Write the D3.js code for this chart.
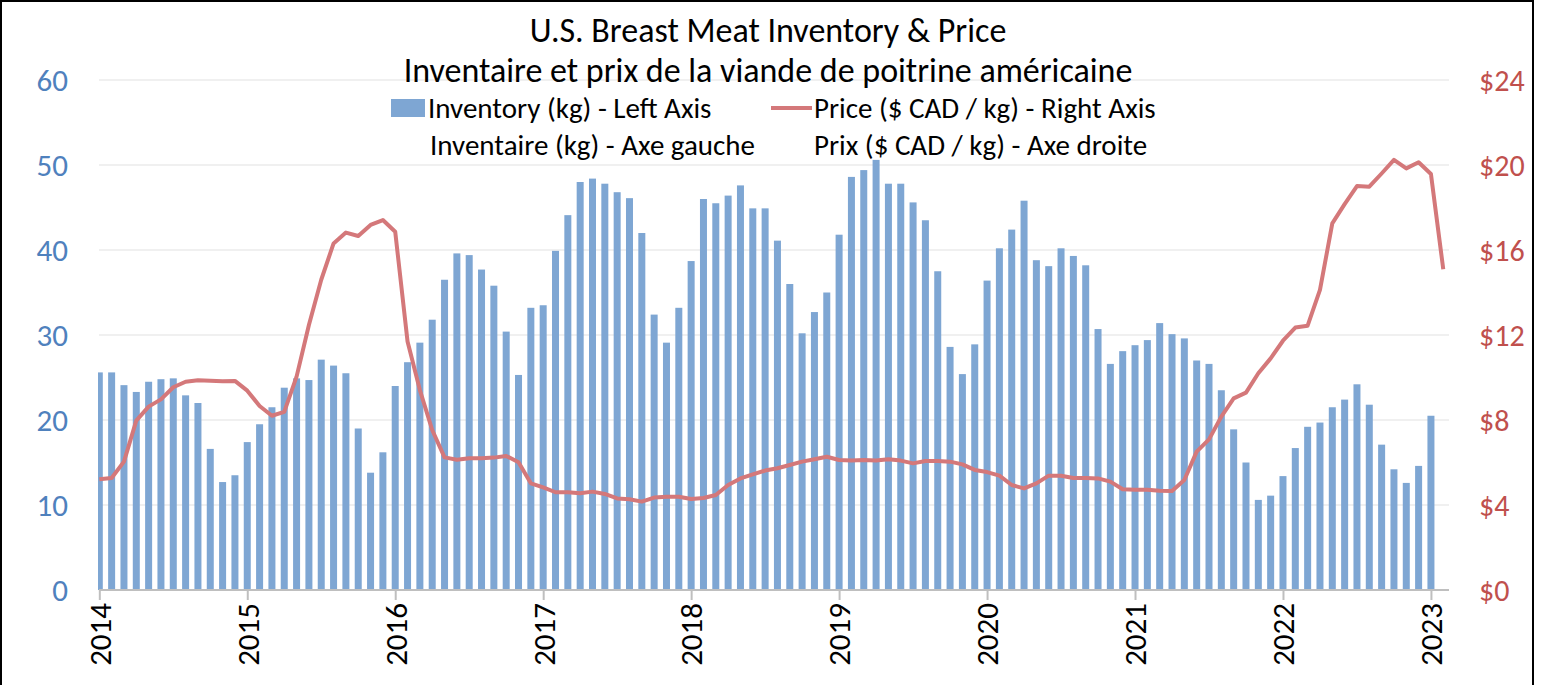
<!DOCTYPE html>
<html>
<head>
<meta charset="utf-8">
<script src="https://cdn.jsdelivr.net/npm/d3@7"></script>
<style>
  body { margin: 0; background: #fff; }
  svg { display: block; font-family: Carlito, Lato, sans-serif; }
</style>
</head>
<body>
<div id="chart-holder"></div>
<script>
// Monthly breast meat inventory (left axis) and price (right axis)

const yearLabels = ['2014','2015','2016','2017','2018','2019','2020','2021','2022','2023'];

// Jan 2014 .. Jan 2023
const inventory = [
    25.6, 25.6, 24.1, 23.3, 24.5, 24.8, 24.9, 22.9, 22.0, 16.6, 12.7, 13.5,
    17.4, 19.5, 21.5, 23.8, 24.9, 24.7, 27.1, 26.4, 25.5, 19.0, 13.8, 16.2,
    24.0, 26.8, 29.1, 31.8, 36.5, 39.6, 39.4, 37.7, 35.8, 30.4, 25.3, 33.2,
    33.5, 39.9, 44.1, 48.0, 48.4, 47.8, 46.8, 46.1, 42.0, 32.4, 29.1, 33.2,
    38.7, 46.0, 45.5, 46.4, 47.6, 44.9, 44.9, 41.1, 36.0, 30.2, 32.7, 35.0,
    41.8, 48.6, 49.4, 50.6, 47.8, 47.8, 45.6, 43.5, 37.5, 28.6, 25.4, 28.9,
    36.4, 40.2, 42.4, 45.8, 38.8, 38.1, 40.2, 39.3, 38.2, 30.7, 26.6, 28.1,
    28.8, 29.4, 31.4, 30.1, 29.6, 27.0, 26.6, 23.5, 18.9, 15.0, 10.6, 11.1,
    13.4, 16.7, 19.2, 19.7, 21.5, 22.4, 24.2, 21.8, 17.1, 14.2, 12.6, 14.6,
    20.5
];

// Jan 2014 .. Feb 2023
const price = [
    5.21, 5.27, 6.04, 7.97, 8.63, 8.97, 9.54, 9.80, 9.87, 9.85, 9.82, 9.84,
    9.38, 8.66, 8.20, 8.38, 10.04, 12.47, 14.6, 16.31, 16.82, 16.66, 17.18, 17.41,
    16.86, 11.69, 9.41, 7.53, 6.24, 6.13, 6.20, 6.20, 6.23, 6.31, 6.01, 5.02,
    4.83, 4.60, 4.60, 4.55, 4.63, 4.52, 4.31, 4.27, 4.16, 4.35, 4.39, 4.39,
    4.28, 4.33, 4.47, 4.94, 5.25, 5.44, 5.62, 5.73, 5.88, 6.04, 6.15, 6.27,
    6.12, 6.09, 6.12, 6.09, 6.15, 6.09, 5.96, 6.07, 6.07, 6.04, 5.91, 5.65,
    5.55, 5.38, 4.94, 4.78, 5.02, 5.38, 5.38, 5.27, 5.27, 5.25, 5.10, 4.74,
    4.72, 4.72, 4.67, 4.66, 5.18, 6.51, 7.09, 8.16, 9.02, 9.29, 10.20, 10.90,
    11.73, 12.35, 12.44, 14.12, 17.25, 18.16, 19.01, 18.98, 19.60, 20.24, 19.84, 20.13,
    19.58, 15.09
];

const leftTicks = [0, 10, 20, 30, 40, 50, 60];
const rightTicks = [0, 4, 8, 12, 16, 20, 24];

const titleLines = ['U.S. Breast Meat Inventory & Price',
                    'Inventaire et prix de la viande de poitrine américaine'];

const width = 1542;
const height = 685;

const colors = {
    bar: '#7ea6d3',
    line: '#d4787a',
    left: '#4f81bd',
    right: '#c0504d',
    grid: '#f0f0f0',
    axis: '#bfbfbf'
};

const plot = { left: 99, right: 1449, top: 80, bottom: 590 };

const months = d3.timeMonth.range(new Date(2014, 0, 1), new Date(2023, 2, 1));

var x = d3.scalePoint()
    .domain(months.map(d => +d))
    .range([plot.left + 0.3, plot.left + 0.3 + 109 * 12.33]);

var yLeft = d3.scaleLinear().domain([0, 60]).range([plot.bottom, plot.top]);
var yRight = d3.scaleLinear().domain([0, 24]).range([plot.bottom, plot.top]);

var svg = d3.select('#chart-holder')
    .append('svg')
    .attr('width', width)
    .attr('height', height);

svg.append('defs').append('clipPath')
    .attr('id', 'plot-clip')
    .append('rect')
    .attr('x', plot.left - 1)
    .attr('y', 0)
    .attr('width', plot.right - plot.left + 2)
    .attr('height', plot.bottom);

// gridlines
svg.append('g')
    .selectAll('line')
    .data(leftTicks.slice(1))
    .join('line')
    .attr('x1', plot.left)
    .attr('x2', plot.right)
    .attr('y1', d => yLeft(d))
    .attr('y2', d => yLeft(d))
    .attr('stroke', colors.grid)
    .attr('stroke-width', 2);

// bars
svg.append('g')
    .attr('clip-path', 'url(#plot-clip)')
    .selectAll('rect')
    .data(inventory)
    .join('rect')
    .attr('x', (d, i) => x(+months[i]) - 3.5)
    .attr('width', 7)
    .attr('y', d => yLeft(d))
    .attr('height', d => yLeft(0) - yLeft(d))
    .attr('fill', colors.bar);

// x axis
var xAxis = d3.axisBottom(x)
    .tickValues(yearLabels.map(y => +new Date(+y, 0, 1)))
    .tickFormat(d => new Date(d).getFullYear())
    .tickSize(10)
    .tickSizeOuter(0);

var xG = svg.append('g')
    .attr('transform', `translate(0,${plot.bottom})`)
    .call(xAxis);

xG.select('.domain')
    .attr('d', `M${plot.left},0H${plot.right}`)
    .attr('stroke', colors.axis)
    .attr('stroke-width', 2);
xG.selectAll('.tick line')
    .attr('stroke', colors.axis)
    .attr('stroke-width', 2);
xG.selectAll('.tick text')
    .attr('transform', 'rotate(-90)')
    .attr('text-anchor', 'end')
    .attr('x', -13)
    .attr('y', 0)
    .attr('dy', '0.35em')
    .attr('fill', '#000')
    .attr('font-family', 'Carlito, Lato, sans-serif')
    .attr('font-size', 31);

// left axis labels
svg.append('g')
    .selectAll('text')
    .data(leftTicks)
    .join('text')
    .attr('x', 68)
    .attr('y', d => yLeft(d))
    .attr('dy', '0.35em')
    .attr('text-anchor', 'end')
    .attr('fill', colors.left)
    .attr('font-size', 31)
    .text(d => d);

// right axis labels
svg.append('g')
    .selectAll('text')
    .data(rightTicks)
    .join('text')
    .attr('x', 1479)
    .attr('y', d => yRight(d))
    .attr('dy', '0.35em')
    .attr('fill', colors.right)
    .attr('font-size', 30)
    .text(d => `$${d}`);

// price line
var line = d3.line()
    .x((d, i) => x(+months[i]))
    .y(d => yRight(d));

svg.append('path')
    .datum(price)
    .attr('d', line)
    .attr('fill', 'none')
    .attr('stroke', colors.line)
    .attr('stroke-width', 4)
    .attr('stroke-linejoin', 'round');

// title
svg.append('g')
    .selectAll('text')
    .data(titleLines)
    .join('text')
    .attr('x', 768)
    .attr('y', (d, i) => 42 + i * 40)
    .attr('text-anchor', 'middle')
    .attr('fill', '#000')
    .attr('font-size', 34)
    .text(d => d);

// legend
let legendG = svg.append('g');

legendG.append('rect')
    .attr('x', 391)
    .attr('y', 99)
    .attr('width', 34)
    .attr('height', 18)
    .attr('fill', colors.bar);

legendG.append('line')
    .attr('x1', 771)
    .attr('x2', 812)
    .attr('y1', 108)
    .attr('y2', 108)
    .attr('stroke', colors.line)
    .attr('stroke-width', 4);

legendG.selectAll('.leg-text')
    .data([
        { x: 428, y: 118, t: 'Inventory (kg) - Left Axis' },
        { x: 430, y: 155, t: 'Inventaire (kg) - Axe gauche' },
        { x: 814, y: 118, t: 'Price ($ CAD / kg) - Right Axis' },
        { x: 814, y: 155, t: 'Prix ($ CAD / kg) - Axe droite' }
    ])
    .join('text')
    .classed('leg-text', true)
    .attr('x', d => d.x)
    .attr('y', d => d.y)
    .attr('fill', '#000')
    .attr('font-size', 29)
    .text(d => d.t);

// outer frame
svg.append('rect')
    .attr('x', 1)
    .attr('y', 1)
    .attr('width', 1532)
    .attr('height', 720)
    .attr('fill', 'none')
    .attr('stroke', '#000')
    .attr('stroke-width', 2);
</script>
</body>
</html>
